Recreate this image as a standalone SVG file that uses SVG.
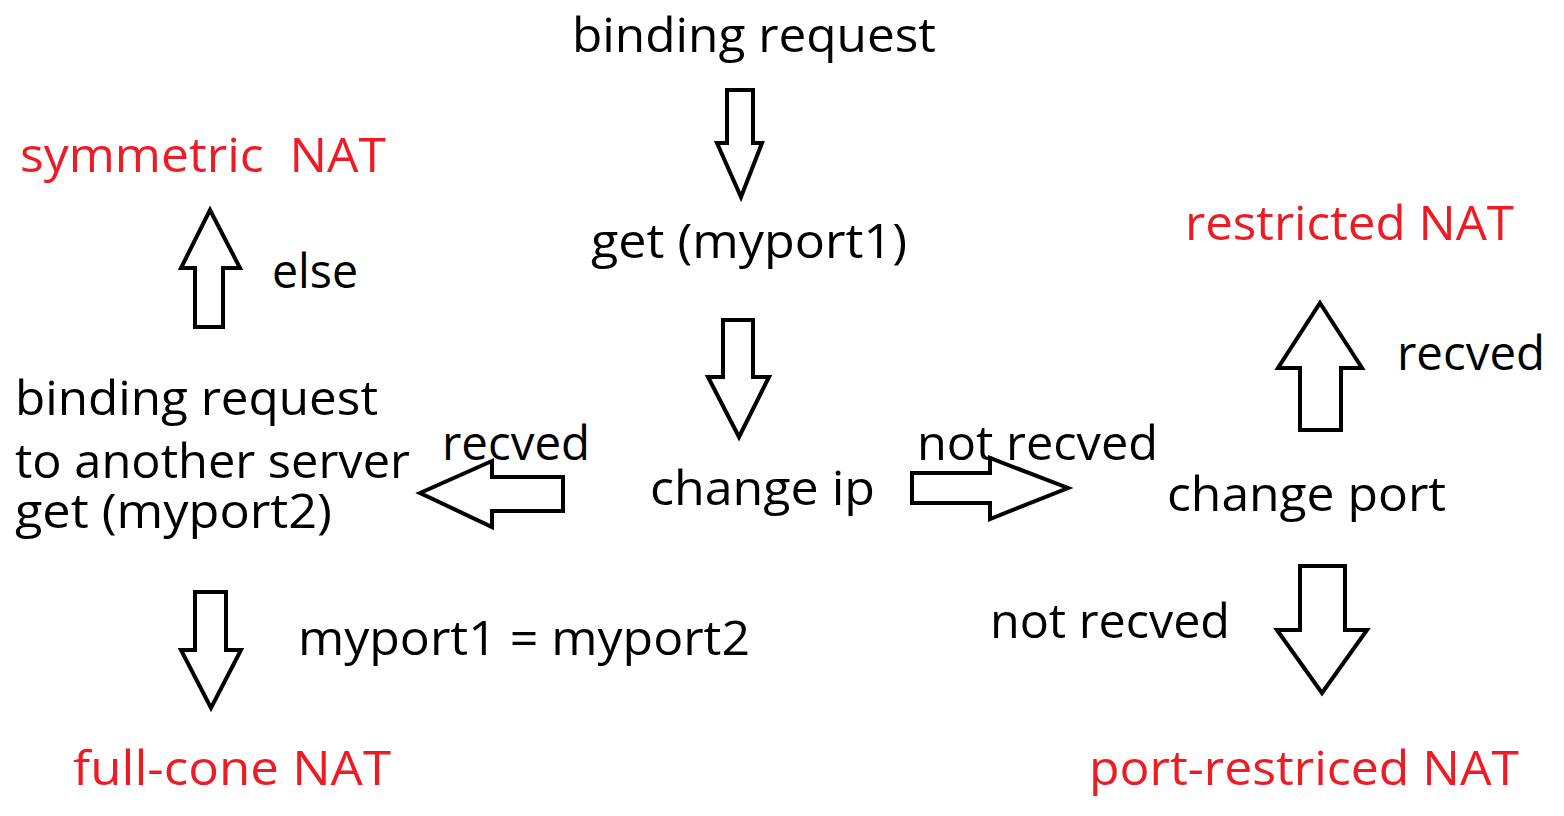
<svg xmlns="http://www.w3.org/2000/svg" width="1564" height="816" viewBox="0 0 1564 816">
<style>
text{font-family:"Open Sans","Noto Sans","Liberation Sans",sans-serif;font-size:48px;fill:#000}
.red{fill:#ED1C24}
.arr{fill:#fff;stroke:#000;stroke-width:4;stroke-linejoin:miter}
</style>
<rect width="1564" height="816" fill="#fff"/>
<g id="connectors">
<polygon class="arr" points="727,90 753,90 753,143 762,143 741,197 717,143 727,143"/>
<polygon class="arr" points="723,320 753,320 753,377 769,377 739,437 708,377 723,377"/>
<polygon class="arr" points="210,210 240,268 223,268 223,327 195,327 195,268 181,268"/>
<polygon class="arr" points="195,592 226,592 226,650 241,650 211,708 181,650 195,650"/>
<polygon class="arr" points="1320,303 1362,368 1341,368 1341,430 1300,430 1300,368 1278,368"/>
<polygon class="arr" points="1300,566 1345,566 1345,630 1367,630 1322,693 1277,630 1300,630"/>
<polygon class="arr" points="420,493 492,461 492,477 563,477 563,511 492,511 492,527"/>
<polygon class="arr" points="912,473 990,473 990,458 1068,488 990,519 990,503 912,503"/>
<text x="272" y="288" textLength="86" lengthAdjust="spacingAndGlyphs">else</text>
<text x="1397" y="370" textLength="148" lengthAdjust="spacingAndGlyphs">recved</text>
<text x="442" y="460" textLength="148" lengthAdjust="spacingAndGlyphs">recved</text>
<text x="917" y="460" textLength="241" lengthAdjust="spacingAndGlyphs">not recved</text>
<text x="990" y="638" textLength="240" lengthAdjust="spacingAndGlyphs">not recved</text>
<text x="298" y="655" textLength="452" lengthAdjust="spacingAndGlyphs">myport1 = myport2</text>
</g>
<g id="start"><text x="572" y="52" textLength="364" lengthAdjust="spacingAndGlyphs">binding request</text></g>
<g id="get1"><text x="591" y="258" textLength="316" lengthAdjust="spacingAndGlyphs">get (myport1)</text></g>
<g id="changeip"><text x="650" y="505" textLength="225" lengthAdjust="spacingAndGlyphs">change ip</text></g>
<g id="changeport"><text x="1167" y="511" textLength="279" lengthAdjust="spacingAndGlyphs">change port</text></g>
<g id="another">
<text x="15" y="415" textLength="363" lengthAdjust="spacingAndGlyphs">binding request</text>
<text x="15" y="478" textLength="395" lengthAdjust="spacingAndGlyphs">to another server</text>
<text x="15" y="528" textLength="317" lengthAdjust="spacingAndGlyphs">get (myport2)</text>
</g>
<g id="symmetric"><text class="red" x="20" y="172" style="white-space:pre" textLength="366" lengthAdjust="spacingAndGlyphs">symmetric  NAT</text></g>
<g id="restricted"><text class="red" x="1185" y="240" textLength="329" lengthAdjust="spacingAndGlyphs">restricted NAT</text></g>
<g id="fullcone"><text class="red" x="73" y="785" textLength="318" lengthAdjust="spacingAndGlyphs">full-cone NAT</text></g>
<g id="portrestricted"><text class="red" x="1089" y="785" textLength="430" lengthAdjust="spacingAndGlyphs">port-restriced NAT</text></g>
</svg>
